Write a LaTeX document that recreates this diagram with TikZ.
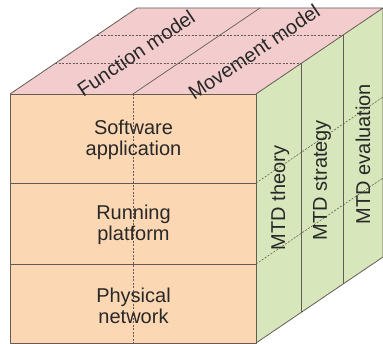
\documentclass[tikz,border=0pt]{standalone}
\usepackage{fontspec}
\setmainfont{Liberation Sans}
\usepackage{tikz}
\usetikzlibrary{calc}
\definecolor{frontpeach}{RGB}{252,215,180}
\definecolor{toppink}{RGB}{243,205,205}
\definecolor{sidegreen}{RGB}{215,231,187}
\definecolor{edgegray}{RGB}{100,92,84}
\definecolor{textgray}{RGB}{40,40,40}

\begin{document}
\begin{tikzpicture}[x=1pt,y=-1pt,
  facebox/.style={draw=edgegray,line width=0.8pt,line join=round},
  split/.style={draw=edgegray,line width=0.7pt},
  hidden/.style={draw=edgegray,line width=0.6pt,dash pattern=on 2pt off 1.5pt},
  lbl/.style={font=\fontsize{20}{21.5}\selectfont,text=textgray,align=center,inner sep=0pt}]
\useasboundingbox (0,0) rectangle (383,344);
% corners of the cube
\coordinate (ftl) at (10,94);
\coordinate (ftr) at (256,94);
\coordinate (fbl) at (10,343);
\coordinate (fbr) at (256,343);
\coordinate (btl) at (137,8);
\coordinate (btr) at (383,8);
\coordinate (bbr) at (383,257);
% faces
\fill[frontpeach] (ftl) rectangle (fbr);
\fill[toppink] (ftl) -- (btl) -- (btr) -- (ftr) -- cycle;
\fill[sidegreen] (ftr) -- (btr) -- (bbr) -- (fbr) -- cycle;
% hidden grid
\draw[hidden] (133,94) -- (133,343);
\draw[hidden] (55,63.5) -- (301,63.5);
\draw[hidden] (97,35) -- (343,35);
\draw[hidden] (256,183) -- (383,97);
\draw[hidden] (256,264) -- (383,178);
% visible dividers
\draw[split] (10,183) -- (256,183);
\draw[split] (10,264) -- (256,264);
\draw[split] (133,94) -- (260,8);
\draw[split] (301,63.5) -- (301,312.5);
\draw[split] (343,35) -- (343,284);
% outlines
\draw[facebox] (ftl) rectangle (fbr);
\draw[facebox] (ftl) -- (btl) -- (btr) -- (ftr);
\draw[facebox] (btr) -- (bbr) -- (fbr);
% labels
\node[lbl] (sw) at (133.5,140) {Software\\application};
\node[lbl] (rp) at (133.5,225) {Running\\platform};
\node[lbl] (pn) at (133.5,306) {Physical\\network};
\node[lbl,rotate=34] (fm) at (136,53) {Function model};
\node[lbl,rotate=34] (mm) at (254,52) {Movement model};
\node[lbl,rotate=90] (th) at (280,198) {MTD theory};
\node[lbl,rotate=90] (st) at (322,180) {MTD strategy};
\node[lbl,rotate=90] (ev) at (363,154) {MTD evaluation};
\end{tikzpicture}
\end{document}
